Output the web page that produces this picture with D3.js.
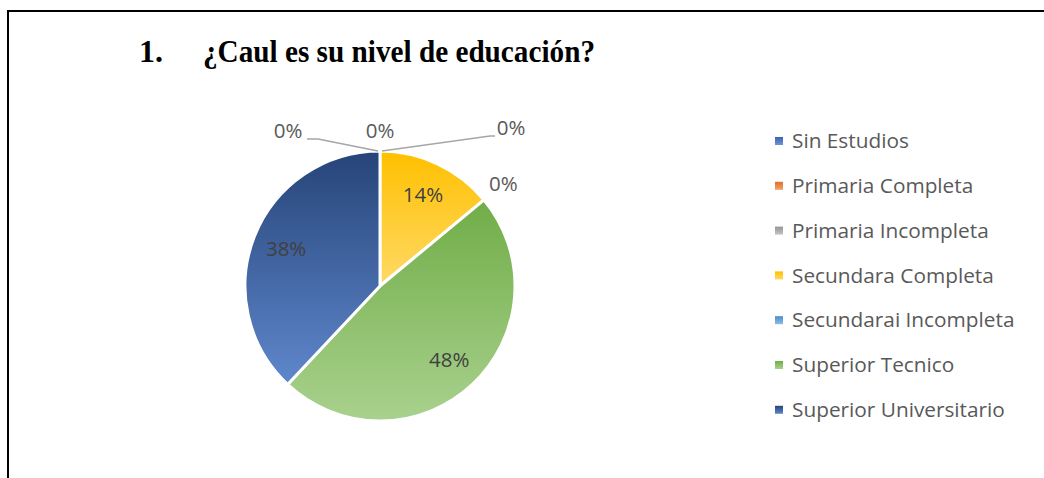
<!DOCTYPE html>
<html><head><meta charset="utf-8">
<script src="https://cdn.jsdelivr.net/npm/d3@7"></script>
<style>html,body{margin:0;padding:0;background:#fff;}svg{display:block;}</style>
</head><body>
<script>
const titleNumber = "1.";
const titleText = "¿Caul es su nivel de educación?";
const categories = ["Sin Estudios","Primaria Completa","Primaria Incompleta","Secundara Completa","Secundarai Incompleta","Superior Tecnico","Superior Universitario"];
const values = [0, 0, 0, 14, 0, 48, 38];
const colorsTop = ["#3a64b0","#e0702a","#959595","#ffc000","#4a8bc8","#70ad47","#264478"];
const colorsBottom = ["#6f93d4","#f4a06a","#c4c4c4","#ffd966","#8fbde6","#a9d18e","#5f87cc"];

const W = 1044, H = 478;
const svg = d3.select("body").append("svg").attr("width", W).attr("height", H);
const defs = svg.append("defs");
categories.forEach((c, i) => {
  const g = defs.append("linearGradient").attr("id", "g" + i)
    .attr("x1", 0).attr("y1", 0).attr("x2", 0).attr("y2", 1);
  g.append("stop").attr("offset", "0%").attr("stop-color", colorsTop[i]);
  g.append("stop").attr("offset", "100%").attr("stop-color", colorsBottom[i]);
});

// frame
svg.append("path").attr("d", `M8,${H} L8,11 L${W},11`).attr("fill", "none").attr("stroke", "#000").attr("stroke-width", 2);

// title
const tg = svg.append("g").attr("font-family", "'Liberation Serif','Times New Roman',serif").attr("font-weight", "bold").attr("font-size", 31).attr("fill", "#000");
tg.append("text").attr("x", 139).attr("y", 62).attr("textLength", 24).attr("lengthAdjust", "spacingAndGlyphs").text(titleNumber);
tg.append("text").attr("x", 203).attr("y", 62).attr("textLength", 392).attr("lengthAdjust", "spacingAndGlyphs").text(titleText);

const cx = 380, cy = 286, R = 135;
const pie = d3.pie().value(d => d).sort(null);
const arcs = pie(values);
const arc = d3.arc().innerRadius(0).outerRadius(R);
const labelArc = d3.arc().innerRadius(101).outerRadius(101);
const outerArc = d3.arc().innerRadius(160).outerRadius(160);

const pg = svg.append("g").attr("transform", `translate(${cx},${cy})`);
pg.selectAll("path.slice").data(arcs).join("path")
  .attr("class", "slice")
  .attr("d", arc)
  .attr("fill", (d, i) => `url(#g${i})`)
  .attr("stroke", "#fff").attr("stroke-width", d => d.value > 0 ? 3 : 0)
  .attr("stroke-linejoin", "round");

const fmt = v => Math.round(v) + "%";
const font = "'Open Sans','Noto Sans',sans-serif";
const fs = 20.5;
const legendFs = 20.8;
const total = d3.sum(values);

// inside labels
pg.selectAll("text.in").data(arcs.filter(d => d.value > 0)).join("text")
  .attr("class", "in")
  .attr("transform", d => `translate(${labelArc.centroid(d)})`)
  .attr("text-anchor", "middle").attr("dy", "0.35em")
  .attr("font-family", font).attr("font-size", fs).attr("fill", "#404040")
  .text(d => fmt(d.value / total * 100));

// zero labels: group by angle, spread horizontally at the top
const zeros = arcs.filter(d => d.value === 0);
const groups = d3.groups(zeros, d => d.startAngle.toFixed(4));
const lineG = pg.append("g").attr("fill", "none").attr("stroke", "#a6a6a6").attr("stroke-width", 1.5);
groups.forEach(([k, items]) => {
  const a = items[0].startAngle;
  const base = outerArc.centroid({startAngle: a, endAngle: a});
  const edge = [R * Math.sin(a), -R * Math.cos(a)];
  if (items.length === 1) {
    pg.append("text").attr("x", base[0]).attr("y", base[1]).attr("dy", "0.35em")
      .attr("text-anchor", "middle").attr("font-family", font).attr("font-size", fs).attr("fill", "#595959")
      .text(fmt(0));
  } else {
    const dxs = [-92, 0, 131];
    const dys = [5, 5, 2];
    items.forEach((d, j) => {
      const x = base[0] + dxs[j], y = base[1] + dys[j];
      pg.append("text").attr("x", x).attr("y", y).attr("dy", "0.35em")
        .attr("text-anchor", "middle").attr("font-family", font).attr("font-size", fs).attr("fill", "#595959")
        .text(fmt(0));
      if (j === 0) {
        lineG.append("path").attr("d", d3.line()([[x + 19, y + 8], [x + 30, y + 8], [edge[0] - 2, edge[1]]]));
      } else if (j === 2) {
        lineG.append("path").attr("d", d3.line()([[edge[0] + 2, edge[1]], [x - 21, y + 8], [x - 16, y + 8]]));
      }
    });
  }
});

// legend
const lg = svg.append("g").attr("transform", "translate(775,141)");
const row = lg.selectAll("g").data(categories).join("g").attr("transform", (d, i) => `translate(0,${i * 44.8})`);
row.append("rect").attr("x", 0).attr("y", -4).attr("width", 8).attr("height", 8).attr("fill", (d, i) => `url(#g${i})`);
row.append("text").attr("x", 17).attr("dy", "0.35em").attr("font-family", font).attr("font-size", legendFs).attr("fill", "#595959").text(d => d);
</script>
</body></html>
